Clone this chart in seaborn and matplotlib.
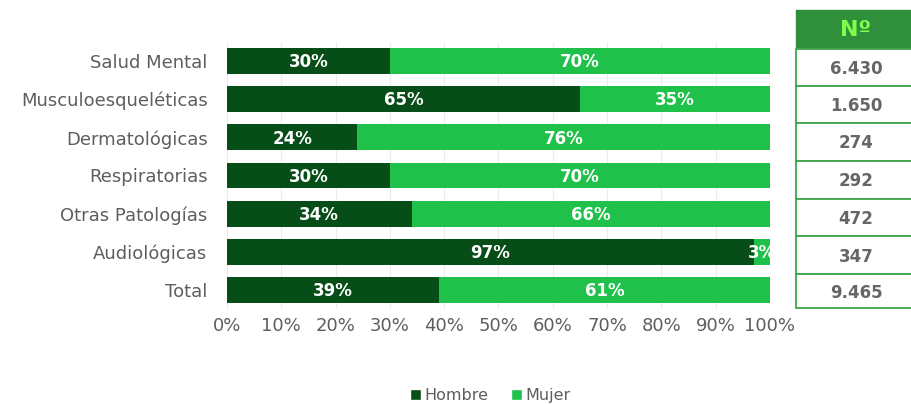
import matplotlib
matplotlib.use("Agg")
import matplotlib.pyplot as plt
from matplotlib.patches import Rectangle, Patch
import seaborn as sns
import pandas as pd

categorias = ["Salud Mental", "Musculoesqueléticas", "Dermatológicas", "Respiratorias",
              "Otras Patologías", "Audiológicas", "Total"]
hombre = [30, 65, 24, 30, 34, 97, 39]
mujer = [70, 35, 76, 70, 66, 3, 61]
numero = ["6.430", "1.650", "274", "292", "472", "347", "9.465"]

C_HOMBRE = "#064d17"
C_MUJER = "#1fc14a"
C_HEADER = "#2f8f3a"
C_TEXT = "#5e5e5e"

sns.set_theme(style="white")
plt.rcParams["font.family"] = ["DejaVu Sans"]

df = pd.DataFrame({"cat": categorias, "hombre": hombre, "mujer": mujer})
df["total"] = df["hombre"] + df["mujer"]

fig = plt.figure(figsize=(9.11, 4.04), dpi=100)
ax = fig.add_axes([227 / 911, 1 - 309 / 404, 543 / 911, 267 / 404])

sns.barplot(data=df, y="cat", x="total", color=C_MUJER, orient="h", width=0.68,
            saturation=1, linewidth=0, ax=ax, zorder=2)
sns.barplot(data=df, y="cat", x="hombre", color=C_HOMBRE, orient="h", width=0.68,
            saturation=1, linewidth=0, ax=ax, zorder=3)

for i, (h, m) in enumerate(zip(hombre, mujer)):
    ax.text(h / 2, i + 0.03, f"{h}%", ha="center", va="center", color="white",
            fontsize=12, fontweight="bold", zorder=4)
    ax.text(h + m / 2, i + 0.03, f"{m}%", ha="center", va="center", color="white",
            fontsize=12, fontweight="bold", zorder=4)

ax.set_xlim(0, 100)
ax.set_ylim(6.5, -0.5)
ax.set_xticks(range(0, 101, 10))
ax.set_xticklabels([f"{v}%" for v in range(0, 101, 10)], fontsize=13, color=C_TEXT)
ax.tick_params(axis="y", labelsize=13, labelcolor=C_TEXT, length=0, pad=14)
ax.tick_params(axis="x", length=0, pad=6)
ax.set_xlabel("")
ax.set_ylabel("")
ax.xaxis.grid(True, color="#ececec", linewidth=0.8, zorder=0)
ax.set_axisbelow(True)
for s in ax.spines.values():
    s.set_visible(False)

# Side table with the number of cases per category
tab = fig.add_axes([796 / 911, 1 - 308 / 404, 120 / 911, 298 / 404])
tab.set_xlim(0, 1)
tab.set_ylim(308, 10)
tab.axis("off")
tab.add_patch(Rectangle((0, 10), 1.2, 39, facecolor=C_HEADER, edgecolor=C_HEADER,
                        clip_on=False))
tab.text(0.5, 30, "Nº", ha="center", va="center", color="#7dff4a",
         fontsize=16, fontweight="bold")
row_edges = [49, 86, 123, 161, 199, 236, 274, 308]
for k, val in enumerate(numero):
    y0, y1 = row_edges[k], row_edges[k + 1]
    tab.add_patch(Rectangle((0, y0), 1.2, y1 - y0, facecolor="white",
                            edgecolor="#3fa64a", linewidth=1.3, clip_on=False))
    tab.text(0.5, (y0 + y1) / 2 + 1.5, val, ha="center", va="center",
             color="#666666", fontsize=12, fontweight="bold")

handles = [Patch(facecolor=C_HOMBRE, label="Hombre"),
           Patch(facecolor=C_MUJER, label="Mujer")]
leg = fig.legend(handles=handles, loc="center", bbox_to_anchor=(0.538, 0.02), ncol=2,
                 frameon=False, fontsize=11.5, handlelength=0.7, handleheight=0.7,
                 handletextpad=0.2, columnspacing=1.4)
for t in leg.get_texts():
    t.set_color(C_TEXT)

fig.savefig("out.png", dpi=100)
